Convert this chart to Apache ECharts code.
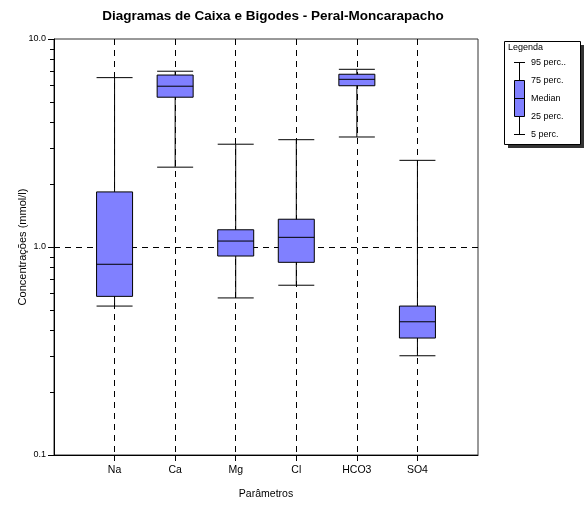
<!DOCTYPE html>
<html>
<head>
<meta charset="utf-8">
<script src="https://cdn.jsdelivr.net/npm/echarts@6/dist/echarts.min.js"></script>
<style>
  html, body { margin: 0; padding: 0; background: #fff; }
  #main { width: 587px; height: 506px; }
</style>
</head>
<body>
<div id="main"></div>
<script>
// parâmetros (com posições vazias nas pontas, como no original)
const categories = ['', 'Na', 'Ca', 'Mg', 'Cl', 'HCO3', 'SO4', '']
// percentis: 5, 25, mediana, 75, 95
const p5  = [0.52, 2.42, 0.569, 0.655, 3.38, 0.30]
const p25 = [0.579, 5.25, 0.905, 0.844, 5.96, 0.365]
const med = [0.826, 5.93, 1.068, 1.113, 6.40, 0.437]
const p75 = [1.84, 6.71, 1.21, 1.36, 6.77, 0.52]
const p95 = [6.52, 7.0, 3.12, 3.28, 7.15, 2.61]
const minorTicks = [0.2, 0.3, 0.4, 0.5, 0.6, 0.7, 0.8, 0.9, 2, 3, 4, 5, 6, 7, 8, 9]
const legendLabels = ['95 perc..', '75 perc.', 'Median', '25 perc.', '5 perc.']

const font = 'Liberation Sans, Arial, sans-serif'

const boxData = [['-', '-', '-', '-', '-']]
for (let i = 0; i < med.length; i++) {
  boxData.push([p5[i], p25[i], med[i], p75[i], p95[i]])
}
boxData.push(['-', '-', '-', '-', '-'])

const chart = echarts.init(document.getElementById('main'))

const inner = (i) => i > 0 && i < categories.length - 1
const dash = { color: '#000', type: [6, 5], width: 1 }

const option = {
  animation: false,
  backgroundColor: '#fff',
  title: {
    text: 'Diagramas de Caixa e Bigodes - Peral-Moncarapacho',
    left: 268,
    textAlign: 'center',
    top: 4,
    textStyle: { fontFamily: font, fontSize: 13.5, fontWeight: 'bold', color: '#000' }
  },
  grid: {
    left: 54, top: 39, width: 424, height: 416,
    show: true, borderColor: '#333', borderWidth: 1, backgroundColor: 'transparent'
  },
  xAxis: {
    type: 'category',
    data: categories,
    boundaryGap: false,
    name: 'Parâmetros',
    nameLocation: 'middle',
    nameGap: 34,
    nameTextStyle: { fontFamily: font, fontSize: 10.5, color: '#000' },
    axisLine: { lineStyle: { color: '#000' } },
    axisTick: { interval: inner, length: 6, lineStyle: { color: '#000' } },
    axisLabel: { interval: inner, fontFamily: font, fontSize: 10.5, color: '#000', margin: 10 },
    splitLine: { show: true, interval: inner, lineStyle: dash }
  },
  yAxis: {
    type: 'log',
    logBase: 10,
    min: 0.1,
    max: 10,
    interval: 1,
    name: 'Concentrações (mmol/l)',
    nameLocation: 'middle',
    nameGap: 26,
    nameMoveOverlap: false,
    nameTextStyle: { fontFamily: font, fontSize: 11, color: '#000' },
    axisLine: { show: true, lineStyle: { color: '#000' } },
    axisTick: { show: true, length: 6, lineStyle: { color: '#000' } },
    axisLabel: {
      fontFamily: font, fontSize: 9, color: '#000', margin: 8,
      formatter: (v) => Number(v).toFixed(1)
    },
    splitLine: { show: false }
  },
  series: [{
    type: 'boxplot',
    data: boxData,
    boxWidth: [36, 36],
    itemStyle: { color: '#8080ff', borderColor: '#000', borderWidth: 1 },
    markLine: {
      silent: true,
      symbol: 'none',
      label: { show: false },
      lineStyle: dash,
      z: 1,
      data: [{ yAxis: 1 }]
    }
  }]
}
chart.setOption(option)

// marcas menores do eixo log (2..9 em cada década) e legenda
const graphics = []
minorTicks.forEach(v => {
  const y = Math.round(chart.convertToPixel({ yAxisIndex: 0 }, v)) + 0.5
  graphics.push({
    type: 'line', shape: { x1: 50, y1: y, x2: 54, y2: y },
    style: { stroke: '#000', lineWidth: 1 }
  })
})

// legenda
graphics.push({ type: 'rect', shape: { x: 508, y: 45, width: 76, height: 103 }, style: { fill: '#333' } })
graphics.push({ type: 'rect', shape: { x: 504.5, y: 41.5, width: 76, height: 103 }, style: { fill: '#fff', stroke: '#000', lineWidth: 1 } })
graphics.push({ type: 'text', x: 508, y: 47.5, style: { text: 'Legenda', font: '9px ' + font, fill: '#000', verticalAlign: 'middle' } })
const lx = 519.5
const ly = [62.5, 80.5, 98.5, 116.5, 134.5]
graphics.push({ type: 'line', shape: { x1: lx, y1: ly[0], x2: lx, y2: ly[4] }, style: { stroke: '#000', lineWidth: 1 } })
graphics.push({ type: 'line', shape: { x1: 514, y1: ly[0], x2: 525, y2: ly[0] }, style: { stroke: '#000', lineWidth: 1 } })
graphics.push({ type: 'line', shape: { x1: 514, y1: ly[4], x2: 525, y2: ly[4] }, style: { stroke: '#000', lineWidth: 1 } })
graphics.push({ type: 'rect', shape: { x: 514.5, y: ly[1], width: 10, height: ly[3] - ly[1] }, style: { fill: '#8080ff', stroke: '#000', lineWidth: 1 } })
graphics.push({ type: 'line', shape: { x1: 514.5, y1: ly[2], x2: 524.5, y2: ly[2] }, style: { stroke: '#000', lineWidth: 1 } })
legendLabels.forEach((t, i) => {
  graphics.push({ type: 'text', x: 531, y: ly[i], style: { text: t, font: '9px ' + font, fill: '#000', verticalAlign: 'middle' } })
})

chart.setOption({ graphic: graphics })
</script>
</body>
</html>
